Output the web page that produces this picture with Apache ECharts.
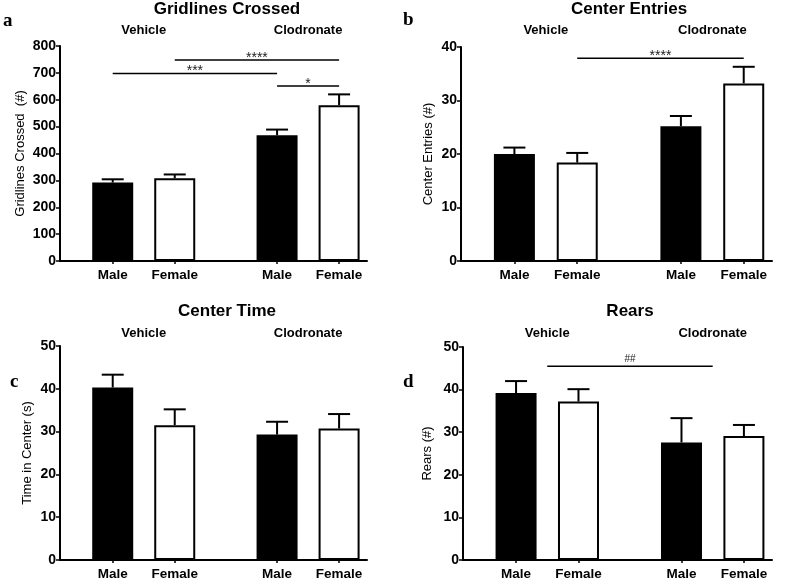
<!DOCTYPE html>
<html>
<head>
<meta charset="utf-8">
<script src="https://cdn.jsdelivr.net/npm/echarts@6/dist/echarts.min.js"></script>
<style>
html,body{margin:0;padding:0;background:#fff;}
#chart{width:800px;height:582px;}
</style>
</head>
<body>
<div id="chart"></div>
<script>
// ---------- data ----------
const groups = ['Vehicle', 'Clodronate'];
const sexes = ['Male', 'Female'];

const gridlinesMean = [292, 308, 468, 580];
const gridlinesSem  = [12, 14, 21, 40];
const entriesMean   = [20.0, 18.4, 25.2, 33.2];
const entriesSem    = [1.2, 1.8, 1.9, 3.1];
const timeMean      = [40.3, 31.5, 29.3, 30.7];
const timeSem       = [3.0, 3.7, 3.0, 3.4];
const rearsMean     = [39.2, 37.2, 27.6, 29.1];
const rearsSem      = [2.8, 2.9, 5.7, 2.6];

// significance: [fromGroup, fromSex, toGroup, toSex, yValue, label]  (sex 0.5 = group centre)
const gridlinesSig = [[0, 0, 1, 0, 698, '***'], [0, 1, 1, 1, 748, '****'], [1, 0, 1, 1, 651, '*']];
const entriesSig   = [[0, 1, 1, 1, 37.9, '****']];
const timeSig      = [];
const rearsSig     = [[0, 0.5, 1, 0.5, 45.5, '##']];

const gridlinesTicks = [0, 800, 100];
const entriesTicks   = [0, 40, 10];
const timeTicks      = [0, 50, 10];
const rearsTicks     = [0, 50, 10];

// ---------- layout ----------
const FONT = "'Liberation Sans', Arial, sans-serif";
const GROUP_STEP = 2.65;
const X_MIN = 0.15, X_MAX = 5.1;
function pos(g, s) { return 1 + g * GROUP_STEP + s; }

const panels = [
  {title: 'Gridlines Crossed', letter: 'a', yName: 'Gridlines Crossed  (#)', mean: gridlinesMean, sem: gridlinesSem, sig: gridlinesSig, ticks: gridlinesTicks,
   grid: {left: 60, top: 46, width: 307, height: 215}, titleX: 227, titleY: 1, groupMargin: 9, nameGap: 33, letterX: 3, letterY: 12},
  {title: 'Center Entries', letter: 'b', yName: 'Center Entries (#)', mean: entriesMean, sem: entriesSem, sig: entriesSig, ticks: entriesTicks,
   grid: {left: 461, top: 47, width: 311, height: 214}, titleX: 629, titleY: 1, groupMargin: 10, nameGap: 26, letterX: 403, letterY: 11},
  {title: 'Center Time', letter: 'c', yName: 'Time in Center (s)', mean: timeMean, sem: timeSem, sig: timeSig, ticks: timeTicks,
   grid: {left: 60, top: 346, width: 307, height: 214}, titleX: 227, titleY: 303, groupMargin: 6, nameGap: 26, letterX: 10, letterY: 373},
  {title: 'Rears', letter: 'd', yName: 'Rears (#)', mean: rearsMean, sem: rearsSem, sig: rearsSig, ticks: rearsTicks,
   grid: {left: 463, top: 347, width: 309, height: 213}, titleX: 630, titleY: 303, groupMargin: 7, nameGap: 29, letterX: 403, letterY: 373}
];

const barPositions = [];
const barLabels = [];
groups.forEach((g, gi) => sexes.forEach((s, si) => { barPositions.push(pos(gi, si)); barLabels.push(s); }));
const groupPositions = groups.map((g, gi) => pos(gi, 0.5));

function labelAt(list, names) {
  return function (v) {
    for (let i = 0; i < list.length; i++) if (Math.abs(list[i] - v) < 1e-6) return names[i];
    return '';
  };
}

const option = {
  backgroundColor: '#fff',
  animation: false,
  title: [], grid: [], xAxis: [], yAxis: [], series: []
};

panels.forEach((p, i) => {
  option.title.push({
    text: p.title, left: p.titleX, top: p.titleY, textAlign: 'center', padding: 0,
    textStyle: {fontFamily: FONT, fontWeight: 'bold', fontSize: 17, color: '#000'}
  });
  option.title.push({
    text: p.letter, left: p.letterX, top: p.letterY, padding: 0,
    textStyle: {fontFamily: "'Liberation Serif', 'Times New Roman', serif", fontWeight: 'bold', fontSize: 19, color: '#000'}
  });
  option.grid.push(Object.assign({containLabel: false}, p.grid));

  option.xAxis.push({
    type: 'value', gridIndex: i, min: X_MIN, max: X_MAX, position: 'bottom',
    splitLine: {show: false},
    axisLine: {show: true, onZero: false, lineStyle: {color: '#000', width: 2}},
    axisTick: {show: true, customValues: barPositions, length: 3, inside: false, lineStyle: {color: '#000', width: 1.5}},
    axisLabel: {show: true, customValues: barPositions, formatter: labelAt(barPositions, barLabels), margin: 7,
      fontFamily: FONT, fontWeight: 'bold', fontSize: 13.5, color: '#000'}
  });
  option.xAxis.push({
    type: 'value', gridIndex: i, min: X_MIN, max: X_MAX, position: 'top',
    splitLine: {show: false}, axisLine: {show: false}, axisTick: {show: false},
    axisLabel: {show: true, customValues: groupPositions, formatter: labelAt(groupPositions, groups), margin: p.groupMargin,
      fontFamily: FONT, fontWeight: 'bold', fontSize: 13, color: '#000'}
  });
  option.yAxis.push({
    type: 'value', gridIndex: i, min: p.ticks[0], max: p.ticks[1], interval: p.ticks[2],
    name: p.yName, nameLocation: 'middle', nameGap: p.nameGap, nameRotate: 90,
    nameTextStyle: {fontFamily: FONT, fontSize: 13, color: '#000'},
    splitLine: {show: false},
    axisLine: {show: true, lineStyle: {color: '#000', width: 2}},
    axisTick: {show: true, length: 4, inside: false, lineStyle: {color: '#000', width: 1.5}},
    axisLabel: {margin: 4, fontFamily: FONT, fontWeight: 'bold', fontSize: 14, color: '#000'}
  });

  const xi = i * 2;
  option.series.push({
    type: 'bar', xAxisIndex: xi, yAxisIndex: i, barWidth: 41, z: 2,
    data: p.mean.map((v, k) => ({
      value: [barPositions[k], v],
      itemStyle: (k % 2 === 0)
        ? {color: '#000', borderColor: '#000', borderWidth: 2}
        : {color: '#fff', borderColor: '#000', borderWidth: 2}
    }))
  });
  option.series.push({
    type: 'custom', xAxisIndex: xi, yAxisIndex: i, z: 3, clip: false,
    data: p.mean.map((v, k) => [barPositions[k], v, p.sem[k]]),
    renderItem: function (params, api) {
      const x = api.value(0), v = api.value(1), e = api.value(2);
      const a = api.coord([x, v]), b = api.coord([x, v + e]);
      return {type: 'group', children: [
        {type: 'line', shape: {x1: a[0], y1: a[1], x2: b[0], y2: b[1]}, style: {stroke: '#000', lineWidth: 2}},
        {type: 'line', shape: {x1: b[0] - 11, y1: b[1], x2: b[0] + 11, y2: b[1]}, style: {stroke: '#000', lineWidth: 2}}
      ]};
    }
  });
  if (p.sig.length) {
    const sig = p.sig;
    option.series.push({
      type: 'custom', xAxisIndex: xi, yAxisIndex: i, z: 4, clip: false,
      data: sig.map(s => [pos(s[0], s[1]), pos(s[2], s[3]), s[4]]),
      renderItem: function (params, api) {
        const x1 = api.value(0), x2 = api.value(1), y = api.value(2);
        const a = api.coord([x1, y]), b = api.coord([x2, y]);
        const lab = sig[params.dataIndex][5];
        const isHash = lab.indexOf('#') >= 0;
        return {type: 'group', children: [
          {type: 'line', shape: {x1: a[0], y1: a[1], x2: b[0], y2: b[1]}, style: {stroke: '#000', lineWidth: 1.5}},
          {type: 'text', x: (a[0] + b[0]) / 2, y: a[1] - (isHash ? 7 : 2),
           style: {text: lab, fill: '#222', font: (isHash ? '10px ' : '14px ') + FONT, align: 'center', verticalAlign: 'middle'}}
        ]};
      }
    });
  }
});

const chart = echarts.init(document.getElementById('chart'), null, {renderer: 'canvas'});
chart.setOption(option);
</script>
</body>
</html>
